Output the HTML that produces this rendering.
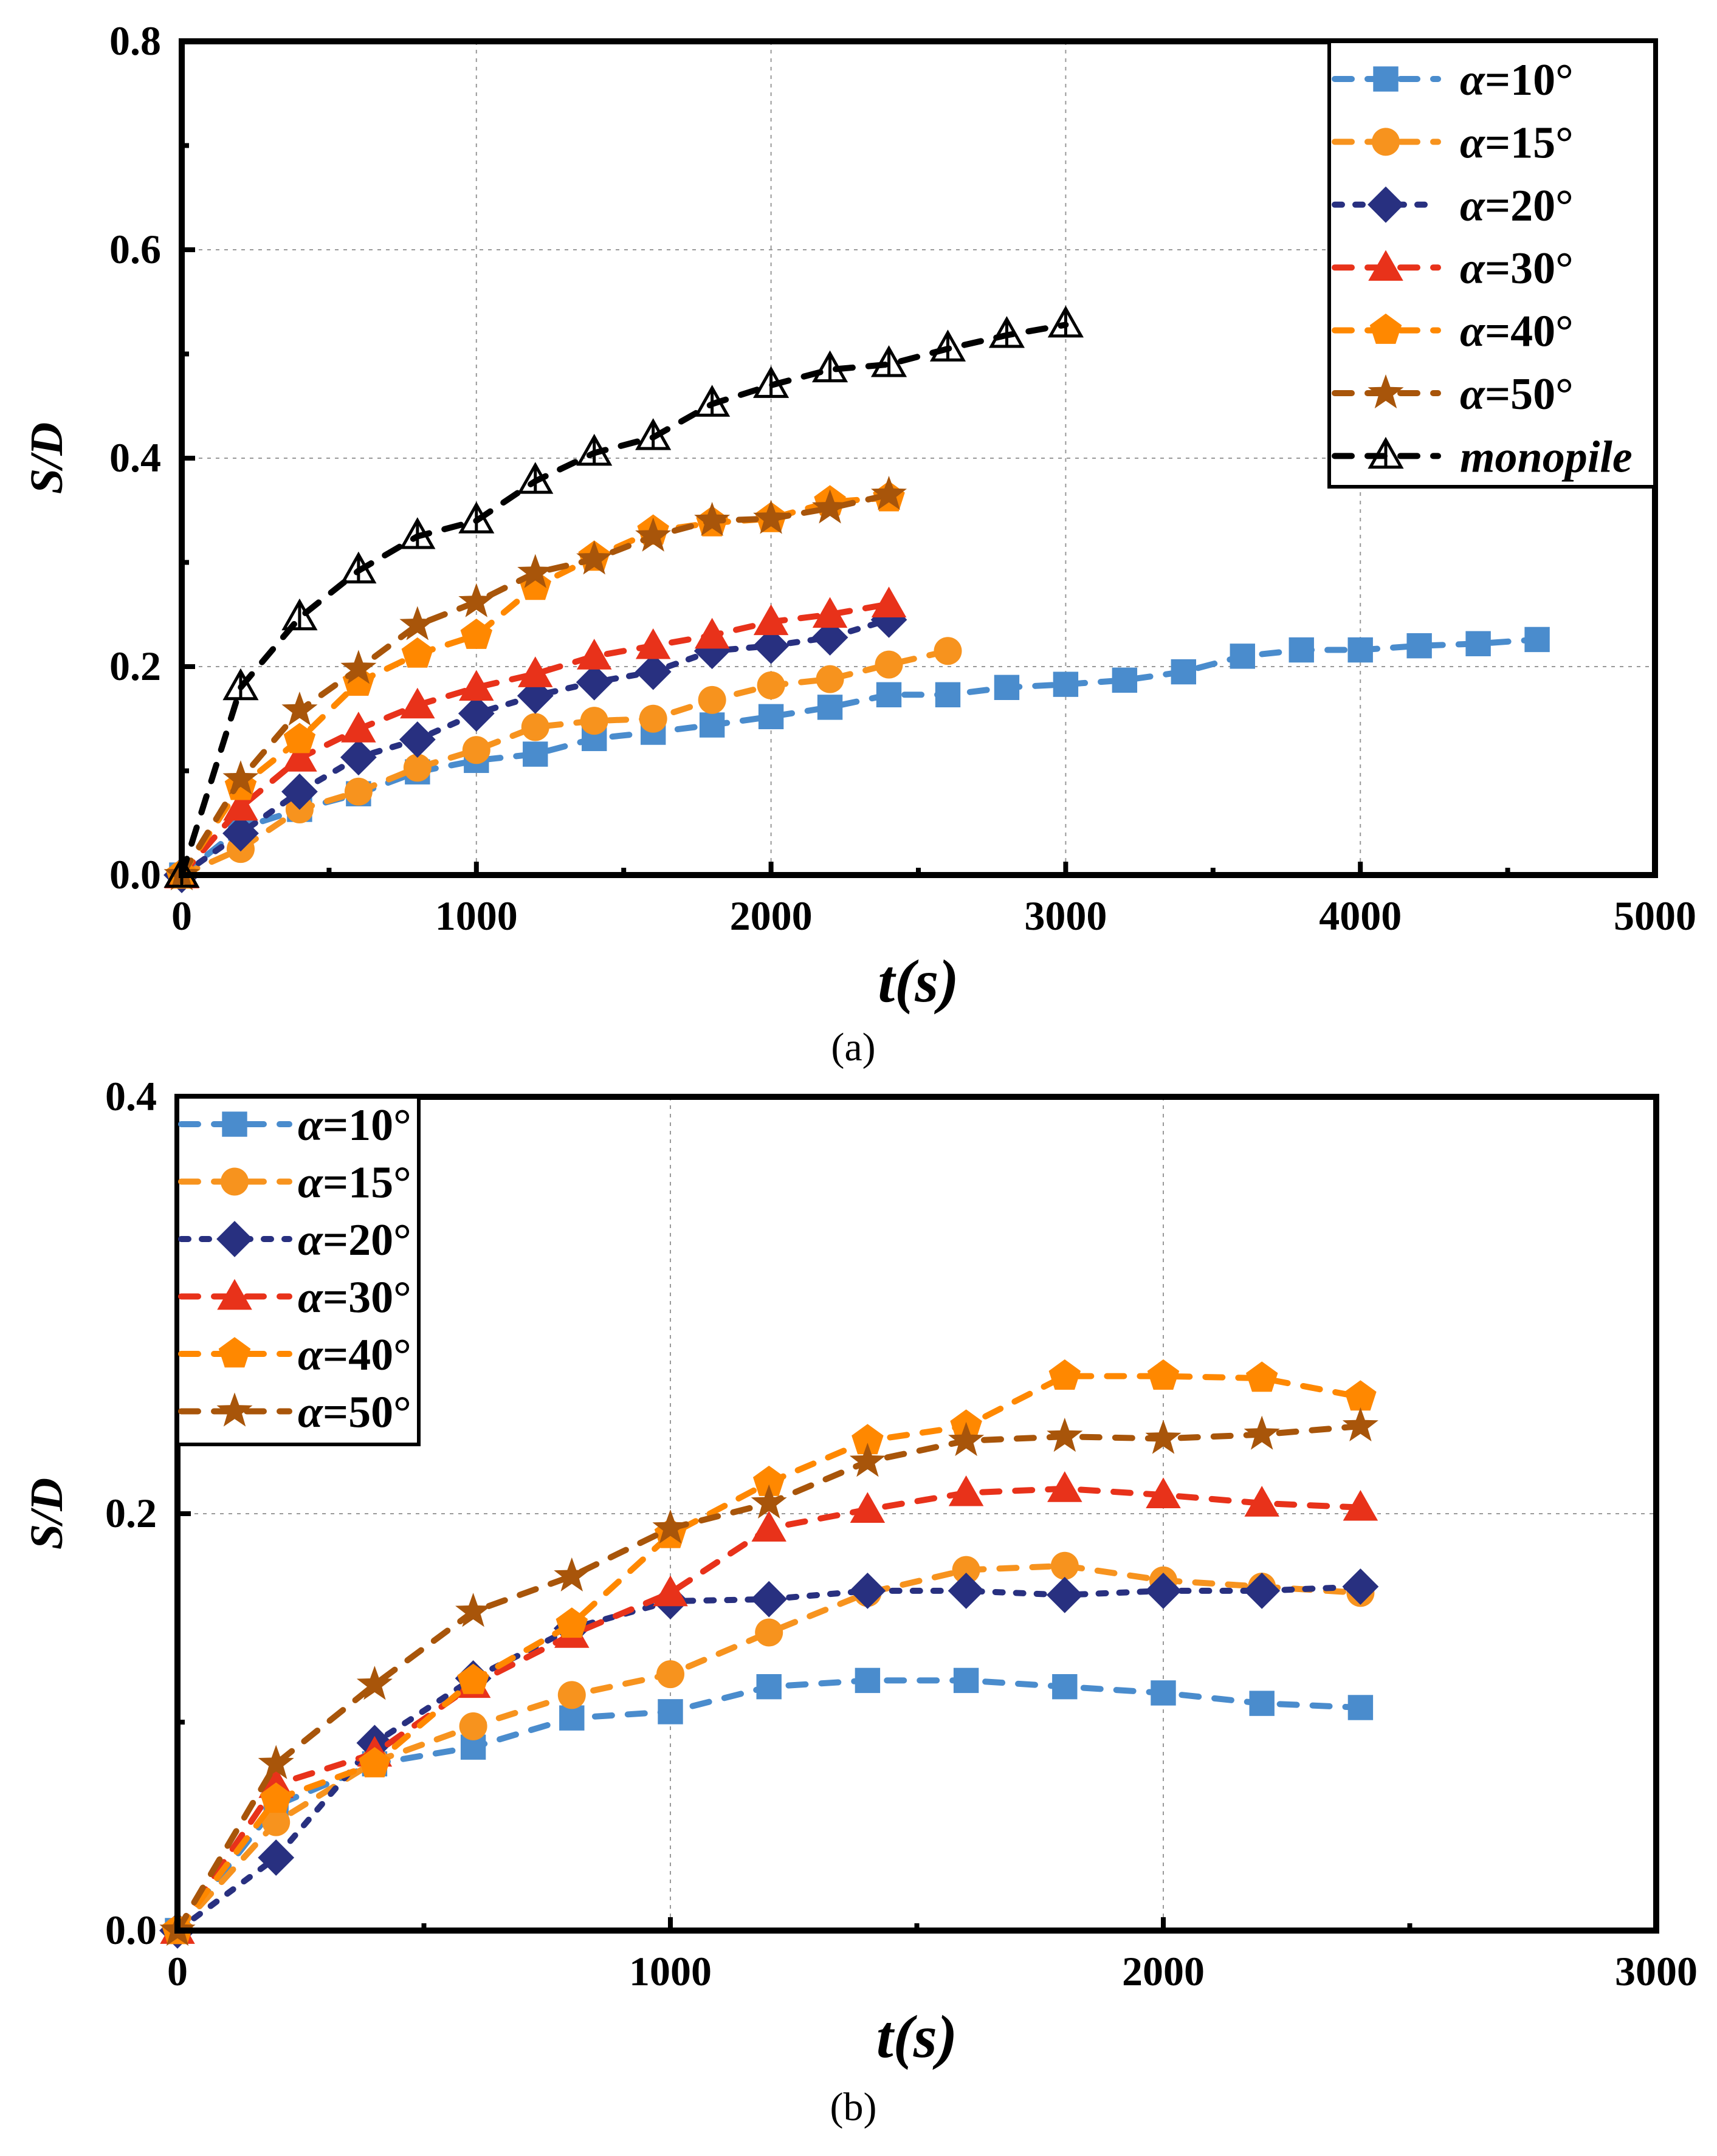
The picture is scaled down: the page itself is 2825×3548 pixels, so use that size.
<!DOCTYPE html>
<html><head><meta charset="utf-8"><style>
html,body{margin:0;padding:0;background:#fff;}
svg{display:block;}
svg text{font-family:"Liberation Serif","Times New Roman",serif;}
</style></head><body>
<svg id="root" xmlns="http://www.w3.org/2000/svg" width="2825" height="3548" viewBox="0 0 2825 3548">
<g id="chartA"></g>
<g id="chartB"></g>
<text x="1404" y="1745" font-size="66" text-anchor="middle">(a)</text>
<text x="1404" y="3489" font-size="66" text-anchor="middle">(b)</text>
</svg>
<script>
// ---- Chart A data ----
const tA = [0,200,400,600,800,1000,1200,1400,1600,1800,2000,2200,2400,2600,2800,3000,3200,3400,3600,3800,4000,4200,4400,4600];
const a10 = [0,0.045,0.063,0.078,0.099,0.11,0.116,0.131,0.137,0.144,0.152,0.161,0.173,0.173,0.18,0.183,0.187,0.195,0.21,0.216,0.216,0.22,0.222,0.226];
const a15 = [0,0.025,0.063,0.08,0.103,0.12,0.142,0.148,0.15,0.168,0.182,0.188,0.202,0.215];
const a20 = [0,0.04,0.08,0.113,0.13,0.155,0.172,0.185,0.195,0.215,0.22,0.228,0.245];
const a30 = [0,0.065,0.112,0.14,0.163,0.18,0.193,0.21,0.22,0.23,0.243,0.25,0.26];
const a40 = [0,0.085,0.13,0.185,0.212,0.23,0.277,0.305,0.33,0.338,0.342,0.358,0.362];
const a50 = [0,0.092,0.158,0.198,0.24,0.262,0.29,0.303,0.325,0.34,0.342,0.352,0.365];
const aMono = [0,0.18,0.247,0.292,0.325,0.34,0.378,0.405,0.42,0.452,0.47,0.485,0.49,0.505,0.518,0.528];
const xTicksA = [0,1000,2000,3000,4000,5000];
const yTicksA = [0.0,0.2,0.4,0.6,0.8];
// ---- Chart B data ----
const tB = [0,200,400,600,800,1000,1200,1400,1600,1800,2000,2200,2400];
const b10 = [0,0.06,0.08,0.088,0.102,0.105,0.117,0.12,0.12,0.117,0.114,0.109,0.107];
const b15 = [0,0.052,0.081,0.098,0.113,0.123,0.143,0.162,0.173,0.175,0.168,0.165,0.162];
const b20 = [0,0.035,0.09,0.121,0.145,0.158,0.159,0.163,0.163,0.161,0.163,0.163,0.165];
const b30 = [0,0.07,0.085,0.118,0.142,0.162,0.193,0.202,0.21,0.212,0.209,0.205,0.203];
const b40 = [0,0.063,0.08,0.12,0.147,0.19,0.215,0.235,0.242,0.266,0.266,0.265,0.256];
const b50 = [0,0.08,0.118,0.153,0.17,0.193,0.205,0.225,0.235,0.237,0.236,0.238,0.242];
const xTicksB = [0,1000,2000,3000];
const yTicksB = [0.0,0.2,0.4];

const NS="http://www.w3.org/2000/svg";
function mk(tag,attrs,parent){const e=document.createElementNS(NS,tag);for(const k in attrs)e.setAttribute(k,attrs[k]);parent.appendChild(e);return e;}

const styles={
 s10:{color:"#4a8ccd",shape:"square",dash:"28 26"},
 s15:{color:"#f7931e",shape:"circle",dash:"28 26"},
 s20:{color:"#283080",shape:"diamond",dash:"12 22"},
 s30:{color:"#e8321a",shape:"triangle",dash:"28 26"},
 s40:{color:"#ff8800",shape:"pentagon",dash:"28 26"},
 s50:{color:"#a8550a",shape:"star",dash:"28 26"},
 mono:{color:"#000000",shape:"opentri",dash:"28 26"}
};

function marker(g,shape,cx,cy,color,r){
 let el;
 if(shape==="square"){el=mk("rect",{x:cx-r*0.9,y:cy-r*0.9,width:r*1.8,height:r*1.8,fill:color},g);}
 else if(shape==="circle"){el=mk("circle",{cx:cx,cy:cy,r:r,fill:color},g);}
 else if(shape==="diamond"){el=mk("polygon",{points:`${cx},${cy-r*1.3} ${cx+r*1.3},${cy} ${cx},${cy+r*1.3} ${cx-r*1.3},${cy}`,fill:color},g);}
 else if(shape==="triangle"){el=mk("polygon",{points:`${cx},${cy-r*1.25} ${cx+r*1.25},${cy+r*0.95} ${cx-r*1.25},${cy+r*0.95}`,fill:color},g);}
 else if(shape==="opentri"){el=mk("g",{},g);
  mk("polygon",{points:`${cx},${cy-r*1.15} ${cx+r*1.1},${cy+r*0.8} ${cx-r*1.1},${cy+r*0.8}`,fill:"none",stroke:color,"stroke-width":5},el);
  mk("line",{x1:cx,x2:cx,y1:cy-r*1.15,y2:cy+r*0.8,stroke:color,"stroke-width":5},el);}
 else if(shape==="pentagon"){let p=[];for(let i=0;i<5;i++){const a=-Math.PI/2+i*2*Math.PI/5;p.push((cx+r*1.2*Math.cos(a))+","+(cy+r*1.2*Math.sin(a)));}el=mk("polygon",{points:p.join(" "),fill:color},g);}
 else if(shape==="star"){let p=[];for(let i=0;i<10;i++){const a=-Math.PI/2+i*Math.PI/5;const rr=i%2?r*0.55:r*1.35;p.push((cx+rr*Math.cos(a))+","+(cy+rr*Math.sin(a)));}el=mk("polygon",{points:p.join(" "),fill:color},g);}
 return el;
}

function drawChart(root,cfg){
 const {L,R,T,B,xmax,ymax,xTicks,yTicks,xMinor,yMinor,series,legend}=cfg;
 const X=v=>L+(R-L)*v/xmax, Y=v=>B-(B-T)*v/ymax;
 const grid=mk("g",{},root);
 
 
 xTicks.forEach(v=>{if(v>0&&v<xmax){const l=mk("line",{x1:X(v),x2:X(v),y1:T,y2:B,stroke:"#999","stroke-width":2,"stroke-dasharray":"6 8"},grid);}});
 yTicks.forEach(v=>{if(v>0&&v<ymax){const l=mk("line",{x1:L,x2:R,y1:Y(v),y2:Y(v),stroke:"#999","stroke-width":2,"stroke-dasharray":"6 8"},grid);}});
 series.forEach(s=>{
  const st=styles[s.style];
  const g=mk("g",{},root);
  
  
  const pts=s.y.map((v,i)=>X(s.x[i])+","+Y(v)).join(" ");
  const pl=mk("polyline",{points:pts,fill:"none",stroke:st.color,"stroke-width":10,"stroke-dasharray":st.dash,"stroke-linecap":"round","stroke-linejoin":"round"},g);
  
  
  s.y.forEach((v,i)=>{const m=marker(g,st.shape,X(s.x[i]),Y(v),st.color,23);
   
   });
 });
 const fr=mk("rect",{x:L,y:T,width:R-L,height:B-T,fill:"none",stroke:"#000","stroke-width":10},root);
 
 
 xTicks.forEach(v=>{mk("line",{x1:X(v),x2:X(v),y1:B,y2:B-22,stroke:"#000","stroke-width":8},root);
  const t=mk("text",{x:X(v),y:B+90,"font-size":68,"font-weight":"bold","text-anchor":"middle"},root);t.textContent=v;
  });
 xMinor.forEach(v=>mk("line",{x1:X(v),x2:X(v),y1:B,y2:B-12,stroke:"#000","stroke-width":8},root));
 yTicks.forEach(v=>{mk("line",{x1:L,x2:L+22,y1:Y(v),y2:Y(v),stroke:"#000","stroke-width":8},root);
  const t=mk("text",{x:L-34,y:Y(v)+22,"font-size":68,"font-weight":"bold","text-anchor":"end"},root);t.textContent=v.toFixed(1);
  });
 yMinor.forEach(v=>mk("line",{x1:L,x2:L+12,y1:Y(v),y2:Y(v),stroke:"#000","stroke-width":8},root));
 const xt=mk("text",{x:(L+R)/2,y:B+208,"font-size":100,"font-weight":"bold","font-style":"italic","text-anchor":"middle"},root);
 xt.textContent="t(s)";
 const yt=mk("text",{x:0,y:0,"font-size":76,"font-weight":"bold","font-style":"italic","text-anchor":"middle",transform:`translate(102,${(T+B)/2}) rotate(-90)`},root);
 yt.textContent="S/D";
 const lg=mk("g",{},root);
 
 
 mk("rect",{x:legend.x,y:legend.y,width:legend.w,height:legend.h,fill:"#fff",stroke:"#000","stroke-width":6},lg);
 series.forEach((s,i)=>{
  const st=styles[s.style];const cy=legend.row0+i*legend.dy;
  const e=mk("g",{},lg);
  
  
  mk("line",{x1:legend.lx1,x2:legend.lx2,y1:cy,y2:cy,stroke:st.color,"stroke-width":10,"stroke-dasharray":st.dash,"stroke-linecap":"round"},e);
  marker(e,st.shape,legend.mx,cy,st.color,23);
  const t=mk("text",{x:legend.tx,y:cy+26,"font-size":legend.fs,"font-weight":"bold"},e);
  if(s.name==="monopile"){t.setAttribute("font-style","italic");t.textContent="monopile";}
  else{const a=mk("tspan",{"font-style":"italic"},t);a.textContent="α";const b=mk("tspan",{},t);b.textContent="="+s.name.replace("alpha","")+"°";}
 });
}

drawChart(document.getElementById("chartA"),{
 L:299,R:2723,T:68,B:1440,xmax:5000,ymax:0.8,xTicks:xTicksA,yTicks:yTicksA,
 xMinor:[500,1500,2500,3500,4500],yMinor:[0.1,0.3,0.5,0.7],
 series:[
  {name:"alpha10",style:"s10",x:tA,y:a10},
  {name:"alpha15",style:"s15",x:tA,y:a15},
  {name:"alpha20",style:"s20",x:tA,y:a20},
  {name:"alpha30",style:"s30",x:tA,y:a30},
  {name:"alpha40",style:"s40",x:tA,y:a40},
  {name:"alpha50",style:"s50",x:tA,y:a50},
  {name:"monopile",style:"mono",x:tA,y:aMono}],
 legend:{x:2187,y:68,w:536,h:733,row0:130,dy:103.4,lx1:2196,lx2:2366,mx:2280,tx:2402,fs:74}
});
drawChart(document.getElementById("chartB"),{
 L:292,R:2725,T:1805,B:3177,xmax:3000,ymax:0.4,xTicks:xTicksB,yTicks:yTicksB,
 xMinor:[500,1500,2500],yMinor:[0.1,0.3],
 series:[
  {name:"alpha10",style:"s10",x:tB,y:b10},
  {name:"alpha15",style:"s15",x:tB,y:b15},
  {name:"alpha20",style:"s20",x:tB,y:b20},
  {name:"alpha30",style:"s30",x:tB,y:b30},
  {name:"alpha40",style:"s40",x:tB,y:b40},
  {name:"alpha50",style:"s50",x:tB,y:b50}],
 legend:{x:292,y:1805,w:397,h:572,row0:1850,dy:94.5,lx1:298,lx2:476,mx:386,tx:490,fs:74}
});
</script>
</body></html>
